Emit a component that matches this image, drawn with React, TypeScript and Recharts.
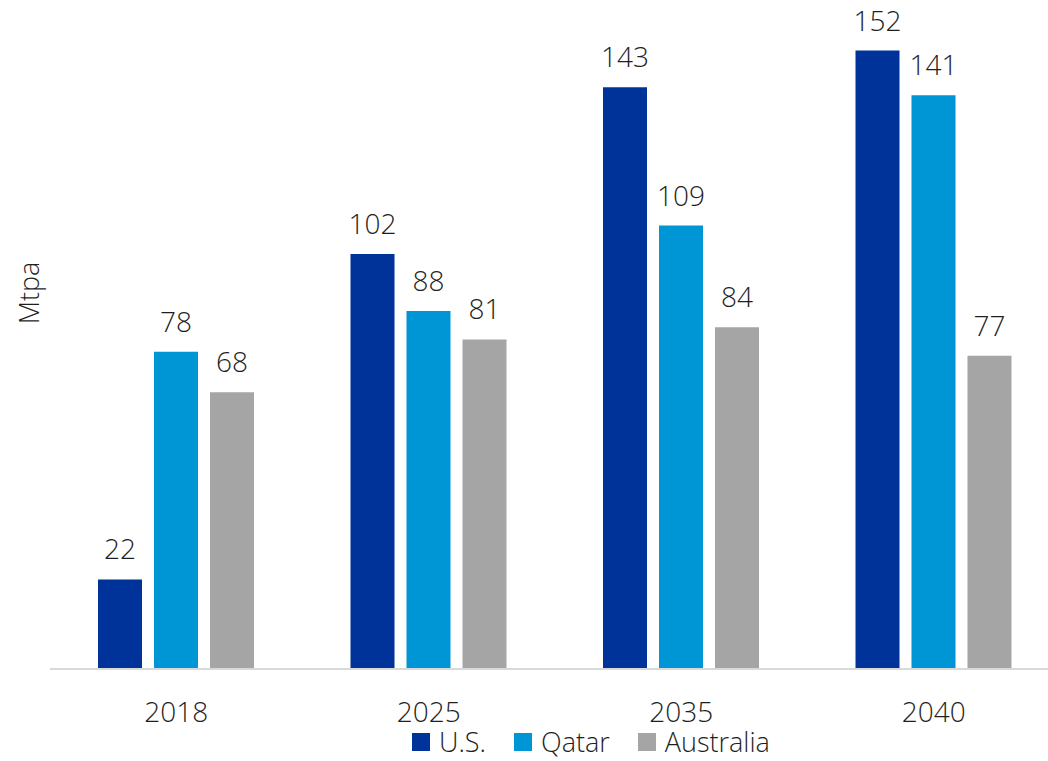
import { Bar, BarChart, LabelList, Legend, XAxis, YAxis } from "recharts";

const years = ["2018", "2025", "2035", "2040"];
const usValues = [22, 102, 143, 152];
const qatarValues = [78, 88, 109, 141];
const australiaValues = [68, 81, 84, 77];

const series = [
  { key: "us", name: "U.S.", color: "#003399" },
  { key: "qatar", name: "Qatar", color: "#0096D6" },
  { key: "australia", name: "Australia", color: "#A5A5A5" },
];

const data = years.map((year, i) => ({
  year,
  us: usValues[i],
  qatar: qatarValues[i],
  australia: australiaValues[i],
}));

const FONT = "'Open Sans', 'Noto Sans', sans-serif";
const TEXT = "#1f1f1f";
const WEIGHT = 300;

function LegendRow() {
  return (
    <div style={{ display: "flex", height: 38, alignItems: "center", paddingLeft: 412, fontFamily: FONT }}>
      {series.map((s) => (
        <div key={s.key} style={{ display: "flex", alignItems: "center", marginRight: 28 }}>
          <span style={{ width: 18, height: 18, background: s.color, display: "inline-block", marginRight: 9 }} />
          <span style={{ fontSize: 27, fontWeight: WEIGHT, color: TEXT, lineHeight: "38px" }}>{s.name}</span>
        </div>
      ))}
    </div>
  );
}

export default function App() {
  return (
    <div style={{ position: "absolute", left: 0, top: 0, width: 1048, height: 761, overflow: "hidden", background: "#fff" }}>
      <BarChart
        width={1060}
        height={761}
        data={data}
        margin={{ top: 18, right: 0, left: 0, bottom: 4 }}
        barSize={44}
        barGap={12}
      >
        <XAxis
          dataKey="year"
          height={50}
          tickSize={0}
          tickMargin={33}
          axisLine={{ stroke: "#D9D9D9", strokeWidth: 2 }}
          tick={{ fontSize: 28, fill: TEXT, fontFamily: FONT, fontWeight: WEIGHT }}
        />
        <YAxis
          width={50}
          domain={[0, 160]}
          tick={false}
          axisLine={false}
          tickLine={false}
          label={{
            content: () => (
              <text
                x={28}
                y={293}
                transform="rotate(-90 28 293)"
                textAnchor="middle"
                dominantBaseline="central"
                fontSize={27}
                fontWeight={WEIGHT}
                fill={TEXT}
                fontFamily={FONT}
              >
                Mtpa
              </text>
            ),
          }}
        />
        <Legend verticalAlign="bottom" wrapperStyle={{ bottom: 0 }} content={() => <LegendRow />} />
        {series.map((s) => (
          <Bar key={s.key} dataKey={s.key} name={s.name} fill={s.color} isAnimationActive={false}>
            <LabelList
              dataKey={s.key}
              position="top"
              offset={20}
              style={{ fontSize: 28, fill: TEXT, fontFamily: FONT, fontWeight: WEIGHT }}
            />
          </Bar>
        ))}
      </BarChart>
    </div>
  );
}
